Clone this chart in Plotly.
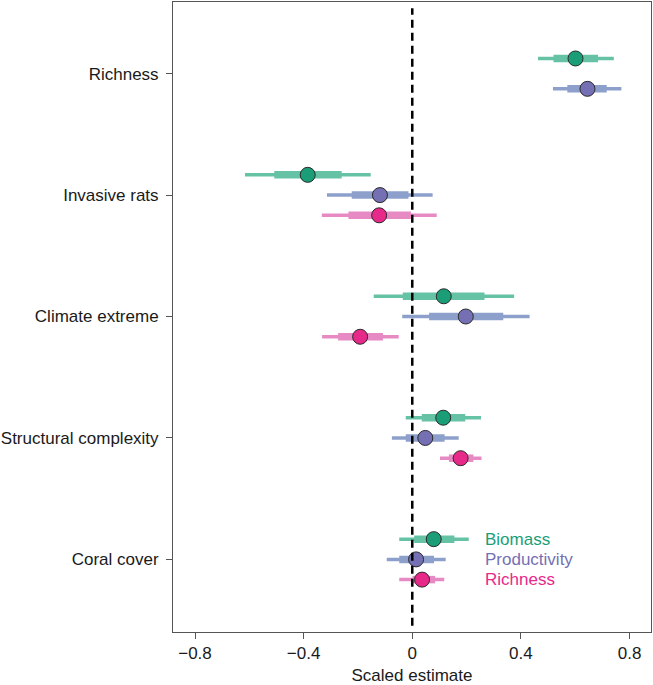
import plotly.graph_objects as go

# ---------------- data ----------------
predictors = ["Richness", "Invasive rats", "Climate extreme", "Structural complexity", "Coral cover"]
x_ticks = [-0.8, -0.4, 0, 0.4, 0.8]
x_tick_labels = ["\u22120.8", "\u22120.4", "0", "0.4", "0.8"]
responses = ["Biomass", "Productivity", "Richness"]

biomass_est = [0.601, -0.385, 0.116, 0.114, 0.079]
biomass_lo95 = [0.463, -0.616, -0.142, -0.024, -0.048]
biomass_hi95 = [0.742, -0.153, 0.375, 0.253, 0.208]
biomass_lo50 = [0.520, -0.508, -0.035, 0.035, 0.007]
biomass_hi50 = [0.684, -0.260, 0.266, 0.195, 0.155]

productivity_est = [0.645, -0.119, 0.197, 0.048, 0.014]
productivity_lo95 = [0.518, -0.314, -0.037, -0.075, -0.094]
productivity_hi95 = [0.770, 0.075, 0.432, 0.171, 0.123]
productivity_lo50 = [0.571, -0.223, 0.062, -0.024, -0.048]
productivity_hi50 = [0.716, -0.014, 0.335, 0.119, 0.080]

richness_est = [None, -0.122, -0.192, 0.178, 0.036]
richness_lo95 = [None, -0.333, -0.332, 0.102, -0.048]
richness_hi95 = [None, 0.090, -0.050, 0.255, 0.118]
richness_lo50 = [None, -0.235, -0.273, 0.135, 0.001]
richness_hi50 = [None, -0.005, -0.108, 0.225, 0.084]

# ---------------- styles ----------------
point_colors = ["#1b9e77", "#7570b3", "#e7298a"]
bar_colors = ["#66c2a5", "#8da0cb", "#e78ac3"]
FONT = "Liberation Sans, Arial, Helvetica, sans-serif"

series = [
    (biomass_est, biomass_lo95, biomass_hi95, biomass_lo50, biomass_hi50),
    (productivity_est, productivity_lo95, productivity_hi95, productivity_lo50, productivity_hi50),
    (richness_est, richness_lo95, richness_hi95, richness_lo50, richness_hi50),
]

n_pred = len(predictors)
group_y = {p: n_pred - i for i, p in enumerate(predictors)}  # top to bottom
dodge = 0.5

# compute y position per series & predictor
ypos = [[None] * n_pred for _ in series]
for j in range(n_pred):
    present = [k for k, s in enumerate(series) if s[0][j] is not None]
    n = len(present)
    for rank, k in enumerate(present):
        off = (rank + 0.5) / n * dodge - dodge / 2
        ypos[k][j] = group_y[predictors[j]] - off

fig = go.Figure()

for k, (est, lo95, hi95, lo50, hi50) in enumerate(series):
    tx, ty, bx, by, px, py = [], [], [], [], [], []
    for j in range(n_pred):
        if est[j] is None:
            continue
        y = ypos[k][j]
        tx += [lo95[j], hi95[j], None]
        ty += [y, y, None]
        bx += [lo50[j], hi50[j], None]
        by += [y, y, None]
        px.append(est[j])
        py.append(y)
    fig.add_trace(go.Scatter(x=tx, y=ty, mode="lines",
                             line=dict(color=bar_colors[k], width=3.5),
                             showlegend=False, hoverinfo="skip"))
    fig.add_trace(go.Scatter(x=bx, y=by, mode="lines",
                             line=dict(color=bar_colors[k], width=7.5),
                             showlegend=False, hoverinfo="skip"))
    fig.add_trace(go.Scatter(x=px, y=py, mode="markers",
                             marker=dict(color=point_colors[k], size=15,
                                         line=dict(color="#2a2a2a", width=1)),
                             name=responses[k], showlegend=False))

# zero reference line
fig.add_shape(type="line", xref="x", yref="paper", x0=0, x1=0, y0=0.01, y1=0.99,
              line=dict(color="black", width=2.5, dash="8px,5px"))

# in-plot legend labels next to the Coral cover group
coral_idx = predictors.index("Coral cover")
for k, name in enumerate(responses):
    fig.add_annotation(x=0.259, y=ypos[k][coral_idx], text=name, showarrow=False,
                       xanchor="left", yanchor="middle",
                       font=dict(family=FONT, size=17, color=point_colors[k]))

fig.update_layout(
    width=653, height=685,
    margin=dict(l=172, r=1, t=1, b=53),
    paper_bgcolor="white", plot_bgcolor="white",
    font=dict(family=FONT, size=17, color="#1a1a1a"),
    showlegend=False,
)
fig.update_xaxes(range=[-0.881, 0.879], tickvals=x_ticks, ticktext=x_tick_labels,
                 showgrid=False, zeroline=False, showline=True, mirror=True,
                 linecolor="#555555", linewidth=1, ticks="outside", ticklen=6,
                 tickcolor="#555555", tickfont=dict(size=17),
                 title=dict(text="Scaled estimate", font=dict(size=17), standoff=8))
fig.update_yaxes(range=[0.402, 5.59], tickvals=[group_y[p] for p in predictors],
                 ticktext=predictors, ticklabelstandoff=4,
                 showgrid=False, zeroline=False, showline=True, mirror=True,
                 linecolor="#555555", linewidth=1, ticks="outside", ticklen=6,
                 tickcolor="#555555", tickfont=dict(size=17))

fig.write_html("out.html",
               config={"displayModeBar": False},
               post_script="document.body.style.margin='0';document.body.style.padding='0';")
